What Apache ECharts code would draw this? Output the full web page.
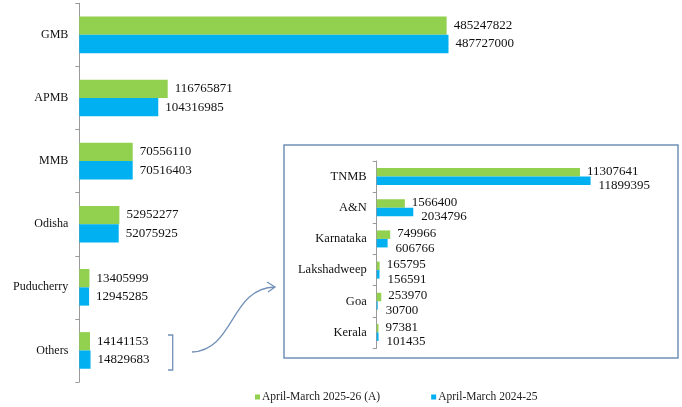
<!DOCTYPE html>
<html>
<head>
<meta charset="utf-8">
<script src="https://cdn.jsdelivr.net/npm/echarts@6/dist/echarts.min.js"></script>
<style>
html,body{margin:0;padding:0;background:#fff;}
#chart{width:682px;height:407px;}
</style>
</head>
<body>
<div id="chart"></div>
<script>
var seriesNames = ['April-March 2025-26 (A)', 'April-March 2024-25'];
var mainCategories = ['GMB', 'APMB', 'MMB', 'Odisha', 'Puducherry', 'Others'];
var main2526 = [485247822, 116765871, 70556110, 52952277, 13405999, 14141153];
var main2425 = [487727000, 104316985, 70516403, 52075925, 12945285, 14829683];
var insetCategories = ['TNMB', 'A&N', 'Karnataka', 'Lakshadweep', 'Goa', 'Kerala'];
var inset2526 = [11307641, 1566400, 749966, 165795, 253970, 97381];
var inset2425 = [11899395, 2034796, 606766, 156591, 30700, 101435];

var GREEN = '#92D050', BLUE = '#00B0F0';
var FONT = 'Liberation Serif';
var AXIS_COLOR = '#9a9a9a';
var FRAME = '#7391b8';

function plain(p) { return String(p.value); }

var chart = echarts.init(document.getElementById('chart'), null, {renderer: 'canvas'});

function catAxis(idx, cats, fontSize, margin) {
  return {
    type: 'category', gridIndex: idx, data: cats, inverse: true,
    axisLine: {show: true, lineStyle: {color: AXIS_COLOR, width: 1}},
    axisTick: {show: true, length: 4, lineStyle: {color: AXIS_COLOR}},
    axisLabel: {fontFamily: FONT, fontSize: fontSize, color: '#111', margin: margin}
  };
}
function valAxis(idx, max) {
  return {
    type: 'value', gridIndex: idx, min: 0, max: max,
    show: false, splitLine: {show: false}
  };
}
function barSeries(name, color, xi, data, width, labelFont, dist, offset, minH) {
  return {
    type: 'bar', name: name, xAxisIndex: xi, yAxisIndex: xi, data: data,
    barWidth: width, barGap: '0%', barMinHeight: minH,
    itemStyle: {color: color},
    label: {show: true, position: 'right', distance: dist, offset: offset,
            fontFamily: FONT, fontSize: labelFont, color: '#111', formatter: plain},
    emphasis: {disabled: true}
  };
}

var option = {
  animation: false,
  backgroundColor: '#fff',
  grid: [
    {left: 79.3, top: 3.3, width: 378.5, height: 378.7},
    {left: 376.7, top: 161, width: 215.7, height: 187}
  ],
  xAxis: [valAxis(0, 500000000), valAxis(1, 12000000)],
  yAxis: [catAxis(0, mainCategories, 12, 11), catAxis(1, insetCategories, 12.5, 10)],
  legend: {
    data: seriesNames, left: 250, top: 386,
    icon: 'rect', itemWidth: 5, itemHeight: 5, itemGap: 51,
    textStyle: {fontFamily: FONT, fontSize: 11.5, color: '#222', padding: [0, 0, 0, -3]},
    selectedMode: false
  },
  series: [
    barSeries(seriesNames[0], GREEN, 0, main2526, 18.3, 13, 7, [0, 0], 0),
    barSeries(seriesNames[1], BLUE, 0, main2425, 18.3, 13, 7, [0, 0], 0),
    barSeries(seriesNames[0], GREEN, 1, inset2526, 8.5, 13, 7, [0, -1], 1),
    barSeries(seriesNames[1], BLUE, 1, inset2425, 8.5, 13, 8, [0, 5], 1)
  ],
  graphic: [
    {type: 'rect', shape: {x: 284, y: 145, width: 394, height: 213},
     style: {fill: 'none', stroke: FRAME, lineWidth: 1.5}, silent: true},
    {type: 'polyline', shape: {points: [[168, 335], [172.7, 335], [172.7, 370], [168, 370]]},
     style: {fill: 'none', stroke: FRAME, lineWidth: 1.3}, silent: true},
    {type: 'bezierCurve', shape: {x1: 192, y1: 352, cpx1: 235, cpy1: 350, cpx2: 230, cpy2: 288, x2: 275, y2: 287},
     style: {fill: 'none', stroke: FRAME, lineWidth: 1.3}, silent: true},
    {type: 'polyline', shape: {points: [[267, 282], [275, 287], [268, 292]]},
     style: {fill: 'none', stroke: FRAME, lineWidth: 1.3}, silent: true}
  ]
};
chart.setOption(option);
</script>
</body>
</html>
